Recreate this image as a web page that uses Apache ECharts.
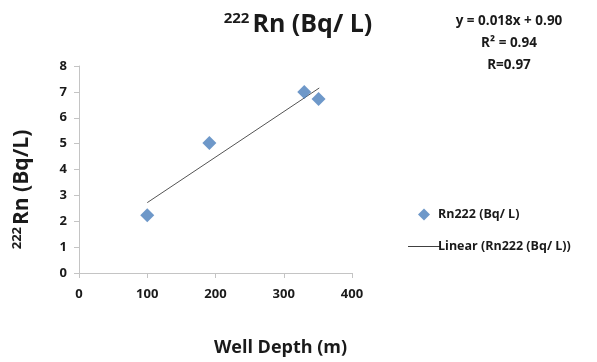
<!DOCTYPE html>
<html>
<head>
<meta charset="utf-8">
<script src="https://cdn.jsdelivr.net/npm/echarts@6/dist/echarts.min.js"></script>
<style>
html,body{margin:0;padding:0;background:#fff;}
#chart{width:597px;height:362px;}
</style>
</head>
<body>
<div id="chart"></div>
<script>
// Data
var wellDepth = [100, 191, 330, 351];
var rn222 = [2.23, 5.02, 7.0, 6.72];
// Linear trendline end points
var trendDepth = [100, 352];
var trendRn = [2.72, 7.15];
var equationLines = ['y = 0.018x + 0.90', 'R\u00b2 = 0.94', 'R=0.97'];
var seriesName = 'Rn222 (Bq/ L)';
var trendName = 'Linear (Rn222 (Bq/ L))';

var FONT = '"Open Sans", "DejaVu Sans", sans-serif';
var TXT = '#1a1a1a';

var chart = echarts.init(document.getElementById('chart'), null, {renderer: 'canvas'});

var option = {
  backgroundColor: '#ffffff',
  animation: false,
  textStyle: {fontFamily: FONT},
  title: [{
    text: '{sup|222}{main|Rn (Bq/ L)}',
    left: 293, top: 6, textAlign: 'center',
    textStyle: {
      rich: {
        sup: {fontFamily: FONT, fontSize: 15, fontWeight: 'bold', color: TXT, verticalAlign: 'top', padding: [0, 3, 12, 0]},
        main: {fontFamily: FONT, fontSize: 25, fontWeight: 'bold', color: TXT}
      }
    }
  }, {
    text: equationLines.join('\n'),
    left: 504, top: 5, textAlign: 'center',
    textStyle: {
      fontFamily: FONT, fontSize: 13.5, fontWeight: 'bold', color: TXT, lineHeight: 22, align: 'center'
    }
  }],
  legend: [{
    orient: 'vertical',
    left: 413, top: 203,
    itemWidth: 12, itemHeight: 12,
    textStyle: {fontFamily: FONT, fontSize: 12.5, fontWeight: 'bold', color: TXT, padding: [0, 0, 0, 3]},
    data: [{name: seriesName, icon: 'diamond'}]
  }, {
    orient: 'vertical',
    left: 403, top: 235,
    itemWidth: 32, itemHeight: 10,
    textStyle: {fontFamily: FONT, fontSize: 12.5, fontWeight: 'bold', color: TXT, padding: [0, 0, 0, -7]},
    data: [{name: trendName, icon: 'path://M0,0 L32,0 L32,1 L0,1 Z', itemStyle: {color: '#404040'}}]
  }],
  grid: {left: 79, right: 245, top: 66, bottom: 86, containLabel: false},
  xAxis: {
    type: 'value', min: 0, max: 400, interval: 100,
    name: 'Well Depth (m)', nameLocation: 'middle', nameGap: 66,
    nameTextStyle: {fontFamily: FONT, fontSize: 18, fontWeight: 'bold', color: TXT, padding: [0, 0, 0, 130]},
    axisLine: {lineStyle: {color: '#c4c4c4', width: 1}},
    axisTick: {show: true, inside: false, length: 5, lineStyle: {color: '#c4c4c4'}},
    axisLabel: {fontFamily: FONT, fontSize: 13, fontWeight: 'bold', color: TXT, margin: 15},
    splitLine: {show: false}
  },
  yAxis: {
    type: 'value', min: 0, max: 8, interval: 1,
    name: '{sup|222}{main|Rn (Bq/L)}', nameLocation: 'middle', nameGap: 46, nameRotate: 90,
    nameTextStyle: {
      padding: [0, 40, 0, 0],
      rich: {
        sup: {fontFamily: FONT, fontSize: 13, fontWeight: 'bold', color: TXT, verticalAlign: 'top', padding: [0, 2, 9, 0]},
        main: {fontFamily: FONT, fontSize: 21, fontWeight: 'bold', color: TXT}
      }
    },
    axisLine: {show: true, lineStyle: {color: '#c4c4c4', width: 1}},
    axisTick: {show: true, inside: false, length: 5, lineStyle: {color: '#c4c4c4'}},
    axisLabel: {fontFamily: FONT, fontSize: 13, fontWeight: 'bold', color: TXT, margin: 12},
    splitLine: {show: false}
  },
  series: [{
    name: seriesName,
    type: 'scatter',
    symbol: 'diamond',
    symbolSize: 14,
    itemStyle: {color: '#4a7ebb'},
    data: wellDepth.map(function (d, i) { return [d, rn222[i]]; }),
    z: 3
  }, {
    name: trendName,
    type: 'line',
    showSymbol: false,
    symbol: 'none',
    lineStyle: {color: '#555555', width: 1},
    itemStyle: {color: '#404040'},
    data: trendDepth.map(function (d, i) { return [d, trendRn[i]]; }),
    z: 2
  }]
};
chart.setOption(option);
</script>
</body>
</html>
